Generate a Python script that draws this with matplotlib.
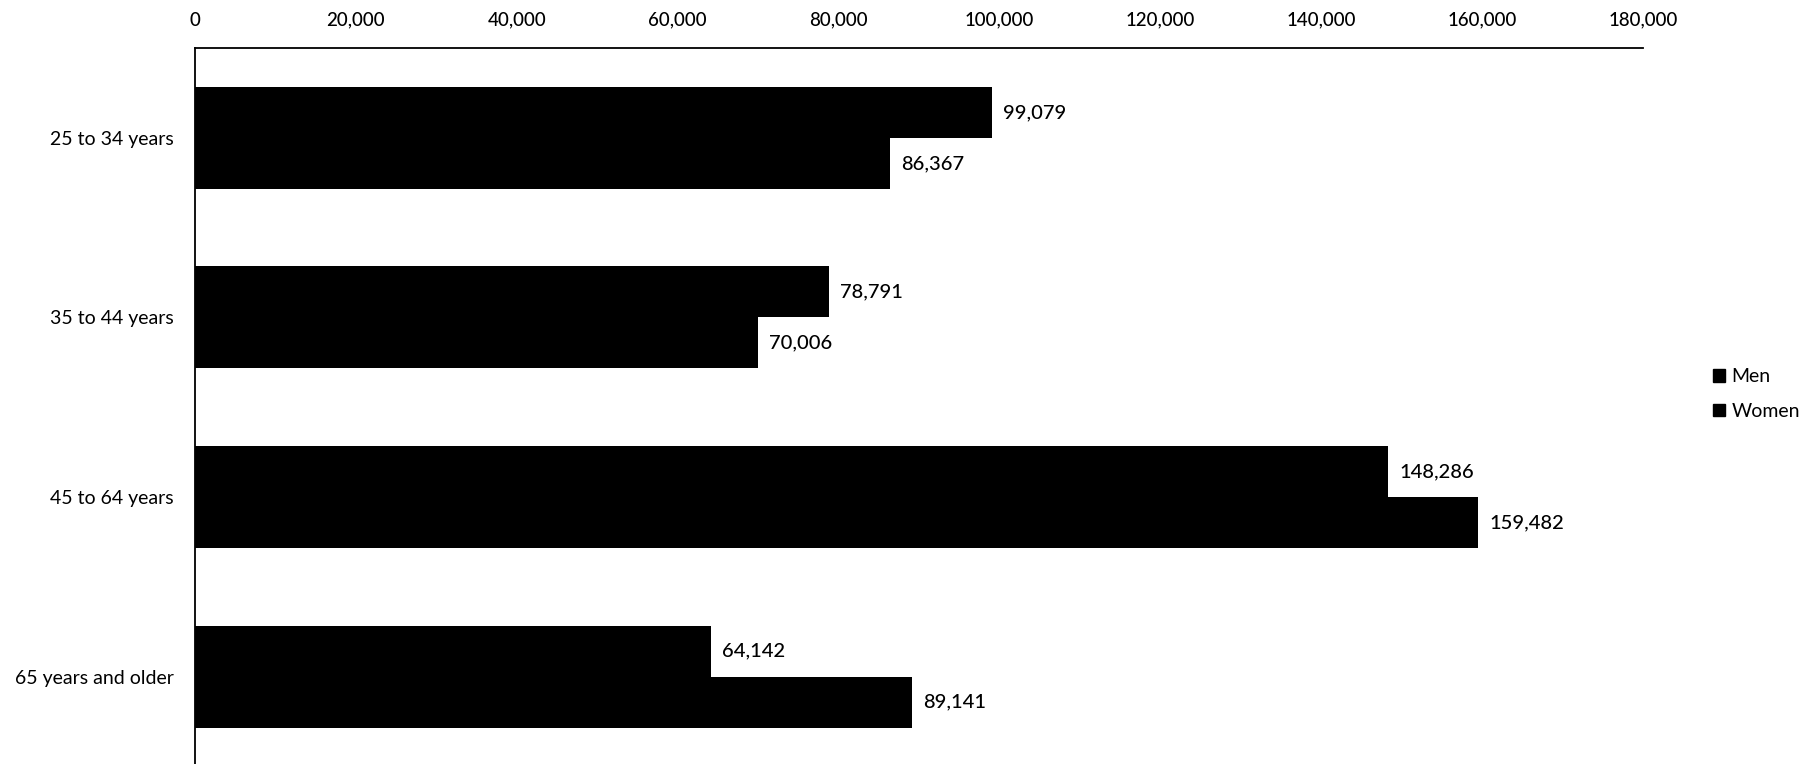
import numpy as np
import matplotlib.pyplot as plt
from matplotlib.patches import Patch

plt.rcParams["font.family"] = ["Lato", "DejaVu Sans"]

# dane
age_groups = ["25 to 34 years", "35 to 44 years", "45 to 64 years", "65 years and older"]
men = [99079, 78791, 148286, 64142]
women = [86367, 70006, 159482, 89141]
x_ticks = [0, 20000, 40000, 60000, 80000, 100000, 120000, 140000, 160000, 180000]


def main():
    fig = plt.figure(figsize=(18.2, 7.64), dpi=100)
    ax = fig.add_axes([0.107, -0.003, 0.796, 0.94])

    y = np.arange(len(age_groups))
    h = 0.284
    bars_m = ax.barh(y - h / 2, men, height=h, color="black", label="Men")
    bars_w = ax.barh(y + h / 2, women, height=h, color="black", label="Women")

    for bars, vals in ((bars_m, men), (bars_w, women)):
        for b, v in zip(bars, vals):
            ax.annotate(f"{v:,}", (b.get_width(), b.get_y() + b.get_height() / 2),
                        xytext=(8, 0), textcoords="offset points",
                        ha="left", va="center", fontsize=14.5, fontweight="medium")

    ax.set_ylim(len(age_groups) - 0.5, -0.5)
    ax.set_xlim(0, 180000)
    ax.set_yticks(y)
    ax.set_yticklabels(age_groups, fontsize=14)
    ax.set_xticks(x_ticks)
    ax.set_xticklabels([f"{t:,}" for t in x_ticks], fontsize=13.5, fontweight="medium")
    ax.xaxis.tick_top()
    ax.tick_params(axis="x", length=0, pad=14)
    ax.tick_params(axis="y", length=0, pad=15)

    for s in ("right", "bottom"):
        ax.spines[s].set_visible(False)
    ax.spines["top"].set_linewidth(1.3)
    ax.spines["left"].set_linewidth(1.3)

    handles = [Patch(color="black", label="Men"), Patch(color="black", label="Women")]
    fig.legend(handles=handles, loc="center left", bbox_to_anchor=(0.937, 0.484),
               frameon=False, fontsize=14, handlelength=0.6, handleheight=0.6,
               handletextpad=0.35, labelspacing=0.9, borderaxespad=0)

    plt.savefig("out.png", dpi=100)


if __name__ == "__main__":
    main()
